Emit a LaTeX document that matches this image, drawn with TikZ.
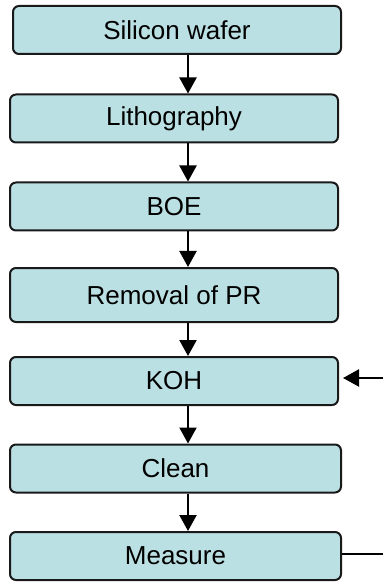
\documentclass[tikz,border=0pt]{standalone}
\usepackage{fontspec}
\setmainfont{Liberation Sans}
\usetikzlibrary{arrows.meta}
\definecolor{boxfill}{RGB}{187,224,227}

\begin{document}
\begin{tikzpicture}[x=0.5pt,y=-0.5pt,
    procbox/.style={draw=black!90, line width=1pt, fill=boxfill, rounded corners=3pt,
      minimum width=164pt, minimum height=24pt, inner sep=0pt,
      font=\fontsize{13}{15}\selectfont},
    flow/.style={line width=1.1pt, -{Triangle[length=8pt,width=8.5pt]}}]
  \useasboundingbox (0,0) rectangle (383,582);

  % Process steps
  \node[procbox] (wafer) at (177,30) {Silicon wafer};
  \node[procbox] (litho) at (174,118.5) {Lithography};
  \node[procbox] (boe) at (174,206.5) {BOE};
  \node[procbox, minimum height=27pt] (removal) at (174,295) {Removal of PR};
  \node[procbox] (koh) at (174,381) {KOH};
  \node[procbox, minimum width=165.5pt] (clean) at (175.5,468.5) {Clean};
  \node[procbox, minimum width=165.5pt] (measure) at (175.5,556) {Measure};

  % Flow arrows
  \coordinate (axis) at (188,0);
  \foreach \a/\b in {wafer/litho, litho/boe, boe/removal, removal/koh, koh/clean, clean/measure} {
    \draw[flow] (\a.south -| axis) -- (\b.north -| axis);
  }

  % Loop back from measure to KOH
  \coordinate (kohin) at (383,378);
  \coordinate (measureout) at (383,554);
  \draw[flow, shorten >=2pt] (kohin) -- (koh.east |- kohin);
  \draw[line width=0.7pt] (measure.east |- measureout) -- (measureout);

\end{tikzpicture}
\end{document}
